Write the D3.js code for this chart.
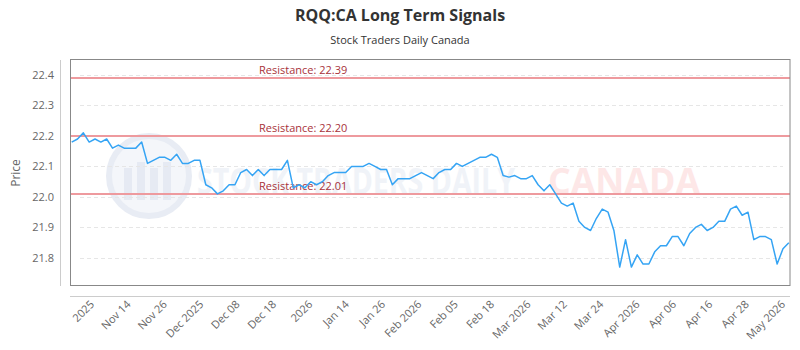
<!DOCTYPE html>
<html>
<head>
<meta charset="utf-8">
<script src="https://cdn.jsdelivr.net/npm/d3@7"></script>
<style>
  body { margin: 0; background: #fff; }
  svg { display: block; font-family: "Open Sans", sans-serif; }
</style>
</head>
<body>
<svg id="chart" width="800" height="350"></svg>
<script>
// data (one point per trading session)
var prices = [
  22.18, 22.19, 22.21, 22.18, 22.19, 22.18, 22.19, 22.16, 22.17, 22.16,
  22.16, 22.16, 22.18, 22.11, 22.12, 22.13, 22.13, 22.12, 22.14, 22.11,
  22.11, 22.12, 22.12, 22.04, 22.03, 22.01, 22.02, 22.04, 22.04, 22.08,
  22.09, 22.07, 22.09, 22.07, 22.09, 22.09, 22.09, 22.12, 22.03, 22.04,
  22.03, 22.05, 22.04, 22.05, 22.07, 22.08, 22.08, 22.08, 22.10, 22.10,
  22.10, 22.11, 22.10, 22.09, 22.09, 22.04, 22.06, 22.06, 22.06, 22.07,
  22.08, 22.07, 22.06, 22.08, 22.09, 22.09, 22.11, 22.10, 22.11, 22.12,
  22.13, 22.13, 22.14, 22.13, 22.07, 22.065, 22.07, 22.06, 22.06, 22.07,
  22.04, 22.02, 22.04, 22.01, 21.98, 21.97, 21.98, 21.92, 21.90, 21.89,
  21.93, 21.96, 21.95, 21.89, 21.77, 21.86, 21.77, 21.81, 21.78, 21.78,
  21.82, 21.84, 21.84, 21.87, 21.87, 21.84, 21.88, 21.90, 21.91, 21.89,
  21.90, 21.92, 21.92, 21.96, 21.97, 21.94, 21.95, 21.86, 21.87, 21.87,
  21.86, 21.78, 21.83, 21.85
];

var xTickLabels = [
  '2025', 'Nov 14', 'Nov 26', 'Dec 2025', 'Dec 08', 'Dec 18', '2026',
  'Jan 14', 'Jan 26', 'Feb 2026', 'Feb 05', 'Feb 18', 'Mar 2026', 'Mar 12',
  'Mar 24', 'Apr 2026', 'Apr 06', 'Apr 16', 'Apr 28', 'May 2026'
];

var yTicks = [21.8, 21.9, 22.0, 22.1, 22.2, 22.3, 22.4];

var resistanceLevels = [22.39, 22.20, 22.01];

var title = 'RQQ:CA Long Term Signals';
var subtitle = 'Stock Traders Daily Canada';

// SETUP
var svg = d3.select('#chart');

var plot = { left: 70, right: 790, top: 60, bottom: 286 };

var x = d3.scaleLinear()
  .domain([0, prices.length - 1])
  .range([71.7, 788.8]);

// labels sit on their own evenly spaced positions
var xLabel = d3.scalePoint()
  .domain(xTickLabels)
  .range([92, 783]);

var y = d3.scaleLinear()
  .domain([21.708, 22.449])
  .range([plot.bottom, plot.top]);

/**
 * Titles
 */
svg.append('text')
  .attr('x', 400)
  .attr('y', 21)
  .attr('text-anchor', 'middle')
  .style('font-size', '16px')
  .style('font-weight', 'bold')
  .style('fill', '#333')
  .text(title);

svg.append('text')
  .attr('x', 400)
  .attr('y', 44)
  .attr('text-anchor', 'middle')
  .style('font-size', '11px')
  .style('fill', '#333')
  .text(subtitle);

/**
 * Watermark
 */
var wm = svg.append('g').attr('id', 'watermark');
wm.append('circle')
  .attr('cx', 149)
  .attr('cy', 176)
  .attr('r', 40)
  .attr('fill', '#f4f6fa')
  .attr('stroke', '#e8ecf4')
  .attr('stroke-width', 6);
[0, 1, 2, 3].forEach(function (i) {
  wm.append('rect')
    .attr('x', 124 + i * 13)
    .attr('y', 168 - (i % 2) * 6)
    .attr('width', 8)
    .attr('height', 32 + (i % 2) * 6)
    .attr('fill', '#e6eaf3');
});
wm.append('text')
  .attr('x', 197)
  .attr('y', 194)
  .attr('textLength', 318)
  .attr('lengthAdjust', 'spacingAndGlyphs')
  .style('font-size', '36px')
  .style('font-weight', 'bold')
  .style('fill', '#f0f3f8')
  .text('STOCK TRADERS DAILY');
wm.append('text')
  .attr('x', 548)
  .attr('y', 194)
  .attr('textLength', 152)
  .attr('lengthAdjust', 'spacingAndGlyphs')
  .style('font-size', '36px')
  .style('font-weight', 'bold')
  .style('fill', '#fde7e7')
  .text('CANADA');

/**
 * Grid
 */
svg.append('g')
  .attr('class', 'grid')
  .selectAll('line')
  .data(yTicks)
  .enter()
  .append('line')
  .attr('x1', 80)
  .attr('x2', 783)
  .attr('y1', function (d) { return Math.round(y(d)) + 0.5; })
  .attr('y2', function (d) { return Math.round(y(d)) + 0.5; })
  .attr('stroke', '#e6e6e6')
  .attr('stroke-dasharray', '4,3');

/**
 * Y axis
 */
svg.append('line')
  .attr('x1', 60.5).attr('x2', 60.5)
  .attr('y1', plot.top).attr('y2', plot.bottom)
  .attr('stroke', '#ccc');

svg.append('g')
  .selectAll('text')
  .data(yTicks)
  .enter()
  .append('text')
  .attr('x', 54)
  .attr('y', function (d) { return y(d) + 4; })
  .attr('text-anchor', 'end')
  .style('font-size', '11px')
  .style('fill', '#666')
  .text(function (d) { return d3.format('.1f')(d); });

svg.append('text')
  .attr('transform', 'translate(20,173) rotate(-90)')
  .attr('text-anchor', 'middle')
  .style('font-size', '12px')
  .style('fill', '#666')
  .text('Price');

/**
 * X axis
 */
svg.append('line')
  .attr('x1', plot.left).attr('x2', plot.right)
  .attr('y1', 296.5).attr('y2', 296.5)
  .attr('stroke', '#ccc');

svg.append('g')
  .selectAll('text')
  .data(xTickLabels)
  .enter()
  .append('text')
  .attr('transform', function (d) {
    return 'translate(' + (xLabel(d) + 3) + ',305) rotate(-45)';
  })
  .attr('text-anchor', 'end')
  .style('font-size', '11px')
  .style('fill', '#666')
  .text(function (d) { return d; });

/**
 * Resistance lines
 */
var res = svg.append('g').attr('class', 'resistance');
res.selectAll('line')
  .data(resistanceLevels)
  .enter()
  .append('line')
  .attr('x1', plot.left).attr('x2', plot.right)
  .attr('y1', function (d) { return y(d); })
  .attr('y2', function (d) { return y(d); })
  .attr('stroke', '#ee9a9e')
  .attr('stroke-width', 2);
res.selectAll('text')
  .data(resistanceLevels)
  .enter()
  .append('text')
  .attr('x', 259)
  .attr('y', function (d) { return y(d) - 4; })
  .style('font-size', '11px')
  .style('fill', '#a8323a')
  .text(function (d) { return 'Resistance: ' + d3.format('.2f')(d); });

/**
 * Price line
 */
var line = d3.line()
  .x(function (d, i) { return x(i); })
  .y(function (d) { return y(d); });

svg.append('path')
  .datum(prices)
  .attr('d', line)
  .attr('fill', 'none')
  .attr('stroke', '#35a4f4')
  .attr('stroke-width', 1.5)
  .attr('stroke-linejoin', 'round');

// plot frame
svg.append('rect')
  .attr('x', plot.left + 0.5)
  .attr('y', plot.top - 0.5)
  .attr('width', plot.right - plot.left - 0.5)
  .attr('height', plot.bottom - plot.top)
  .attr('fill', 'none')
  .attr('stroke', '#888');
</script>
</body>
</html>
